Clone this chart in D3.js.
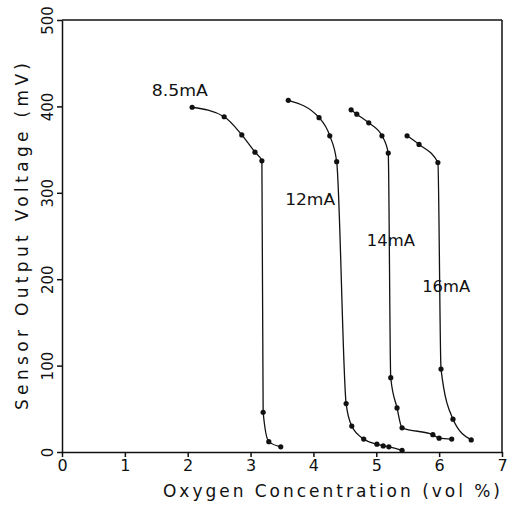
<!DOCTYPE html>
<html lang="en">
<head>
  <meta charset="UTF-8">
  <title>Sensor Output Voltage vs Oxygen Concentration</title>
  <script src="https://d3js.org/d3.v7.min.js"></script>
  <style>
    body { margin: 0; background: #fff; }
    svg { display: block; }
    text { font-family: "DejaVu Sans", sans-serif; fill: #111; }
  </style>
</head>
<body>
<div id="chart"></div>
<script>
  // Data: [oxygen vol %, sensor output mV]
  const s85 = [[2.07, 399], [2.58, 388], [2.86, 367], [3.07, 347], [3.18, 337],
               [3.20, 46], [3.29, 12], [3.48, 6]];
  const s12 = [[3.60, 407], [4.09, 387], [4.26, 366], [4.37, 336], [4.52, 56],
               [4.61, 30], [4.80, 15], [5.01, 9], [5.11, 7], [5.20, 6], [5.41, 2]];
  const s14 = [[4.60, 396], [4.69, 391], [4.88, 381], [5.09, 366], [5.19, 346],
               [5.23, 86], [5.33, 51], [5.41, 28], [5.90, 20], [6.00, 16], [6.20, 15]];
  const s16 = [[5.49, 366], [5.68, 356], [5.98, 335], [6.03, 96], [6.22, 38], [6.51, 14]];

  const seriesList = [s85, s12, s14, s16];
  const curveLabels = ["8.5mA", "12mA", "14mA", "16mA"];
  const labelPos = [[1.43, 412], [3.55, 286], [4.85, 238], [5.73, 185]];
  const labelWidth = [56, 50, 48, 48];

  const xTicks = [0, 1, 2, 3, 4, 5, 6, 7];
  const yTicks = [0, 100, 200, 300, 400, 500];

  const width = 514, height = 508;
  const svg = d3.select("#chart").append("svg")
    .attr("width", width)
    .attr("height", height);

  const x = d3.scaleLinear().domain([0, 7]).range([62, 502]);
  const y = d3.scaleLinear().domain([0, 500]).range([452, 20]);

  // axes
  const xAxis = svg.append("g")
    .attr("transform", `translate(0,${y(0)})`)
    .call(d3.axisBottom(x).tickValues(xTicks).tickFormat(d3.format("d"))
      .tickSize(5).tickSizeOuter(0));
  xAxis.selectAll("text").style("font-size", "16px");

  const yAxis = svg.append("g")
    .attr("transform", `translate(${x(0)},0)`)
    .call(d3.axisLeft(y).tickValues(yTicks).tickFormat(d3.format("d"))
      .tickSize(5).tickSizeOuter(0));
  yAxis.selectAll("text")
    .style("font-size", "15px")
    .attr("x", 0).attr("dy", 0)
    .attr("text-anchor", "middle")
    .attr("transform", "translate(-9,0) rotate(-90)");

  svg.selectAll(".domain, .tick line")
    .attr("stroke", "#111")
    .attr("stroke-width", 1.5);

  // top and right frame lines
  svg.append("line")
    .attr("x1", x(0)).attr("x2", x(7))
    .attr("y1", y(500)).attr("y2", y(500))
    .attr("stroke", "#111").attr("stroke-width", 1.5);
  svg.append("line")
    .attr("x1", x(7)).attr("x2", x(7))
    .attr("y1", y(500)).attr("y2", y(0))
    .attr("stroke", "#111").attr("stroke-width", 1.5);

  // curves
  const line = d3.line()
    .x(d => x(d[0]))
    .y(d => y(d[1]))
    .curve(d3.curveMonotoneX);

  seriesList.forEach(s => {
    svg.append("path")
      .datum(s)
      .attr("fill", "none")
      .attr("stroke", "#111")
      .attr("stroke-width", 1.3)
      .attr("d", line);

    svg.selectAll(null)
      .data(s)
      .enter().append("circle")
      .attr("cx", d => x(d[0]))
      .attr("cy", d => y(d[1]))
      .attr("r", 2.6)
      .attr("fill", "#111");
  });

  // curve labels
  curveLabels.forEach((t, i) => {
    svg.append("text")
      .attr("x", x(labelPos[i][0]))
      .attr("y", y(labelPos[i][1]))
      .attr("textLength", labelWidth[i])
      .attr("lengthAdjust", "spacingAndGlyphs")
      .style("font-size", "15px")
      .text(t);
  });

  // axis titles
  svg.append("text")
    .attr("x", 163)
    .attr("y", 497)
    .attr("textLength", 337)
    .attr("lengthAdjust", "spacing")
    .style("font-size", "17px")
    .text("Oxygen Concentration (vol %)");

  svg.append("text")
    .attr("transform", "translate(28,410) rotate(-90)")
    .attr("textLength", 347)
    .attr("lengthAdjust", "spacing")
    .style("font-size", "17px")
    .text("Sensor Output Voltage (mV)");
</script>
</body>
</html>
